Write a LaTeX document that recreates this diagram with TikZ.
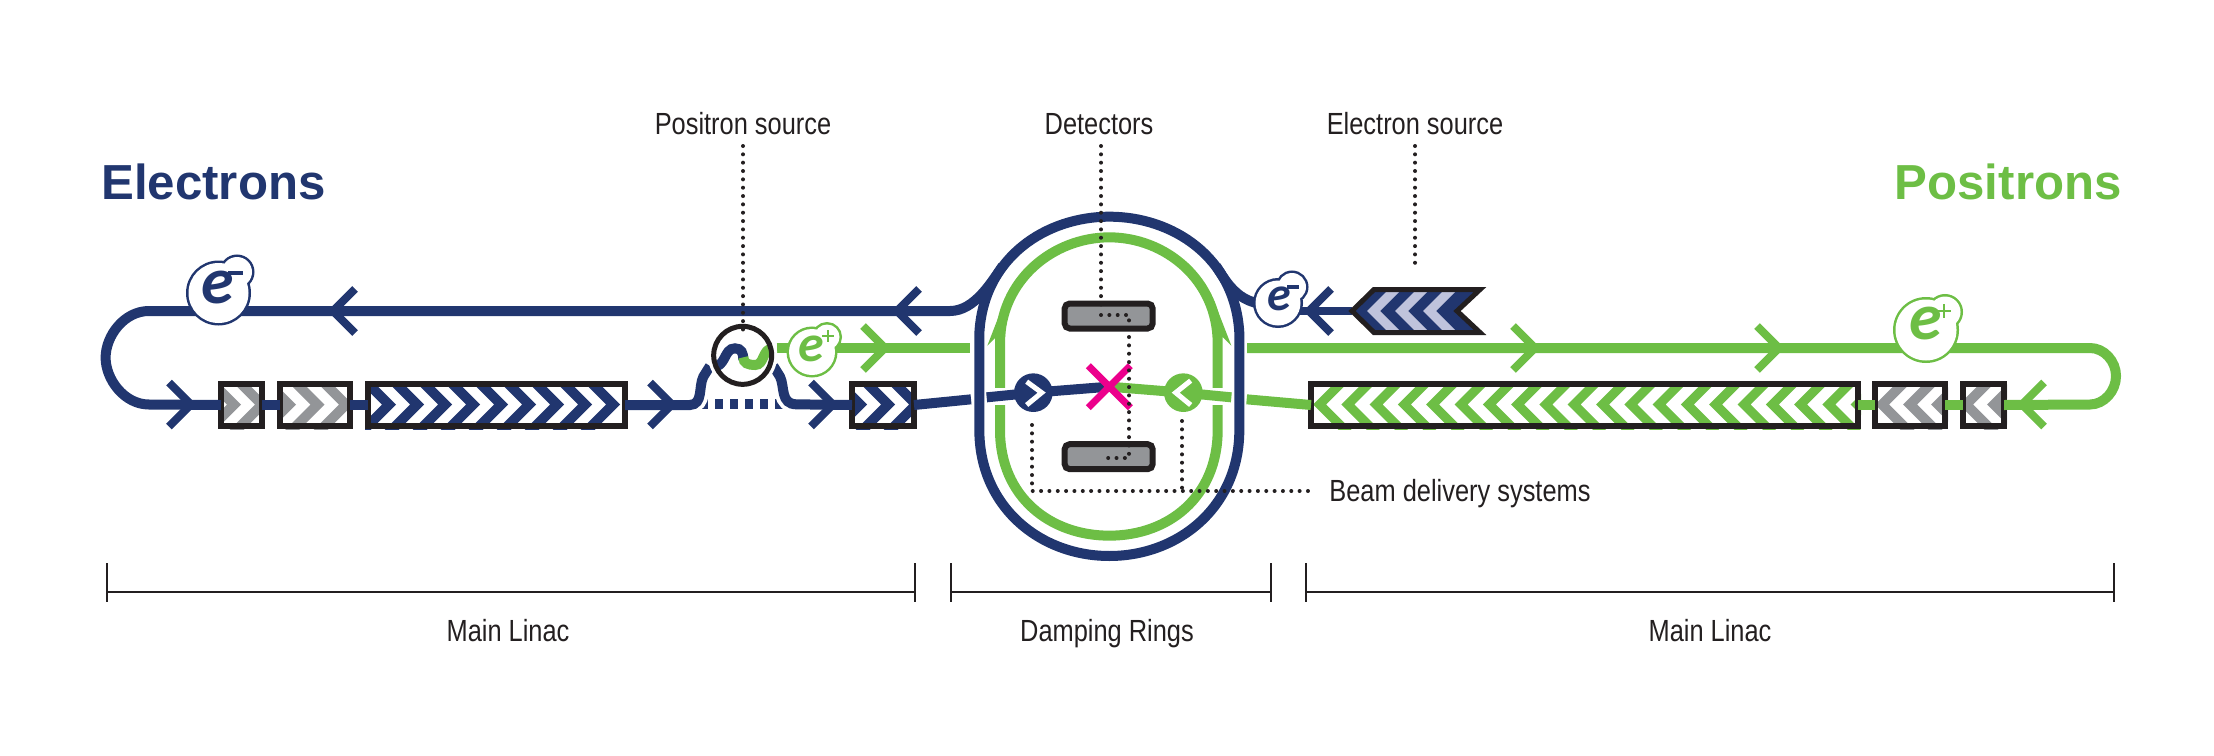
\documentclass[tikz,border=0pt]{standalone}
\usepackage{fontspec}
\setmainfont{Liberation Sans}
\newfontfamily\efont{Carlito}
\newfontfamily\lblfont[FakeStretch=0.83]{Liberation Sans}
\definecolor{navy}{HTML}{21366F}
\definecolor{lime}{HTML}{6DBE45}
\definecolor{blk}{HTML}{231F20}
\definecolor{gry}{HTML}{939598}
\definecolor{lav}{HTML}{BFC3DC}
\definecolor{mag}{HTML}{EC008C}
\tikzset{
 navyln/.style={draw=navy,line width=5pt},
 limeln/.style={draw=lime,line width=5pt},
 halo/.style={draw=white,line width=9pt},
 arm/.style={line width=4pt,miter limit=10},
 boxst/.style={draw=blk,line width=3pt,rectangle,inner sep=0pt,outer sep=0pt,minimum height=21pt},
 detbox/.style={draw=blk,fill=gry,line width=3pt,rectangle,rounded corners=2.5pt,inner sep=0pt,outer sep=0pt,minimum width=44pt,minimum height=12.5pt},
 dots/.style={draw=blk,line width=2pt,line cap=round,dash pattern=on 0pt off 4.17pt},
 lbl/.style={inner sep=0pt,anchor=base,font=\lblfont\fontsize{15.3}{17}\selectfont,text=blk},
 head/.style={inner sep=0pt,font=\fontsize{24.6}{28}\selectfont\bfseries},
 brk/.style={draw=blk,line width=1.2pt},
}
% chevrons pointing right / left: centre y, thickness, colour, tips
\newcommand{\chevR}[4]{\foreach \tp in {#4}{\fill[#3] (\tp,#1) -- ++(-30,-30) -- ++(-#2,0) -- ++(30,30) -- ++(-30,30) -- ++(#2,0) -- cycle;}}
\newcommand{\chevL}[4]{\foreach \tp in {#4}{\fill[#3] (\tp,#1) -- ++(30,-30) -- ++(#2,0) -- ++(-30,30) -- ++(30,30) -- ++(-#2,0) -- cycle;}}
% name, x1, x2, \chevR or \chevL, thickness, colour, tips
\newcommand{\linacbox}[7]{%
 \begin{scope}\clip (#2,381) rectangle (#3,429);
 #4{404.5}{#5}{#6}{#7}\end{scope}%
 \pgfmathsetmacro{\bw}{(#3-#2-6)*0.5}\pgfmathsetmacro{\bx}{(#3+#2)/2}%
 \node[boxst,minimum width=\bw pt] (#1) at (\bx,405) {};}
% arrows: tip x, y, colour
\newcommand{\arrR}[3]{\draw[#3,arm] (#1-22,#2-22) -- (#1,#2) -- (#1-22,#2+22);}
\newcommand{\arrL}[3]{\draw[#3,arm] (#1+22,#2-22) -- (#1,#2) -- (#1+22,#2+22);}
% cx, cy, r, bx, by, br, colour
\newcommand{\eblob}[7]{%
 \draw[#7,line width=2.5pt] (#1,#2) circle[radius=#3] (#4,#5) circle[radius=#6];
 \fill[white] (#1,#2) circle[radius=#3] (#4,#5) circle[radius=#6];}
\begin{document}
\begin{tikzpicture}[x=0.5pt,y=-0.5pt]
\useasboundingbox (0,0) rectangle (2214,755);
% linac boxes
\linacbox{bA}{218}{265}{\chevR}{14}{gry}{241,269}
\linacbox{bB}{277}{353}{\chevR}{14}{gry}{296,324.5,353}
\linacbox{bC}{365}{628}{\chevR}{14}{navy}{396,424,452,480,508,536,564,592,620}
\linacbox{bD}{849}{917}{\chevR}{14}{navy}{867,895,923}
\linacbox{bE}{1308}{1861}{\chevL}{13}{lime}{1313,1341.3,1369.6,1397.9,1426.2,1454.5,1482.8,1511.1,1539.4,1567.7,1596,1624.3,1652.6,1680.9,1709.2,1737.5,1765.8,1794.1,1822.4,1850.7}
\linacbox{bF}{1872}{1948}{\chevL}{14}{gry}{1875,1903,1931}
\linacbox{bG}{1960}{2007}{\chevL}{14}{gry}{1959,1987}
% green oval, central scope in 1/3-pixel units
\begin{scope}[shift={(950,190)},scale=0.33333]
 \draw[limeln] (150,460) .. controls (150,270) and (310,142) .. (478,142)
   .. controls (646,142) and (803,270) .. (803,460) -- (803,720)
   .. controls (803,920) and (656,1037) .. (478,1037)
   .. controls (300,1037) and (150,920) .. (150,720) -- cycle;
 \fill[lime] (112,467) -- (137,442) -- (165,442) -- (165,330) -- cycle;
 \fill[lime] (844,467) -- (819,442) -- (791,442) -- (791,330) -- cycle;
 % white gaps round the beams
 \fill[white] (112,595) rectangle (190,645);
 \fill[white] (760,595) rectangle (844,645);
 \coordinate (ip) at (478,590);
 \coordinate (nb) at (250,608);
 \coordinate (gb) at (700,608);
 \coordinate (nl) at (110,622);
 \coordinate (gl) at (844,622);
 \coordinate (nout) at (63,628);
 \coordinate (gout) at (890,628);
 \draw[navyln] (nl) -- (nb) -- (ip);
 \draw[limeln] (ip) -- (gb) -- (gl);
 \fill[navy] (nb) circle[radius=58];
 \fill[lime] (gb) circle[radius=58];
 \draw[white,line width=2.5pt] (230,575) -- (275,608) -- (230,645);
 \draw[white,line width=2.5pt] (722,572) -- (677,608) -- (722,645);
 % navy oval
 \draw[navyln] (88,430) .. controls (100,200) and (290,80) .. (478,80)
   .. controls (666,80) and (856,200) .. (868,430) -- (868,720)
   .. controls (868,950) and (686,1098) .. (478,1098)
   .. controls (270,1098) and (88,950) .. (88,720) -- cycle;
 \node[detbox] (detT) at (476,378) {};
 \node[detbox] (detB) at (476,800) {};
\end{scope}
% navy electron line with left loop
\coordinate (flL) at (1002.7,266);
\draw[navyln] (flL) .. controls (992,281) and (975,311) .. (950,311) -- (149,311)
  .. controls (124,311) and (105.6,336) .. (105.6,357.7)
  .. controls (105.6,379) and (124,404.5) .. (149,404.5) -- (bA.west);
\draw[navyln] (bA.east) -- (bB.west);
\draw[navyln] (bB.east) -- (bC.west);
\draw[navyln] (bD.east) -- (nout);
\draw[limeln] (gout) -- (bE.west);
\draw[limeln] (bE.east) -- (bF.west);
\draw[limeln] (bF.east) -- (bG.west);
% green positron line and right loop
\draw[limeln] (1247,348) -- (2090,348)
  .. controls (2104,348) and (2116,361) .. (2116,376)
  .. controls (2116,391) and (2104,404.5) .. (2090,404.5) -- (bG.east);
% positron source
\begin{scope}[shift={(640,280)},scale=0.33333]
 \foreach \dx in {225,270,315,360} {\fill[navy] (\dx,358) rectangle ++(25,30);}
 \fill[navy] (181,358) rectangle (205,388);
 \fill[navy] (405,358) rectangle (428,388);
 \coordinate (riseL) at (210,258);
 \coordinate (riseR) at (400,258);
 \draw[halo] (150,372) .. controls (190,372) and (175,320) .. (190,290) -- (riseL);
 \draw[halo] (470,372) .. controls (420,372) and (435,320) .. (420,290) -- (riseR);
 \coordinate (flatL) at (150,372);
 \draw[navyln] (bC.east) -- (flatL |- bC.east) .. controls (190,373) and (175,320) .. (190,290) -- (riseL);
 \draw[navyln] (riseR) -- (420,290) .. controls (435,320) and (420,373) .. (470,373) -- (bD.west);
 \draw[limeln] (410,205) -- (990,205);
 \fill[white] (308,226) circle[radius=104];
 \begin{scope}
  \clip (308,226) circle[radius=85];
  \draw[navyln] (215,262) .. controls (260,262) and (250,205) .. (285,205) .. controls (305,205) and (310,220) .. (310,240);
  \draw[limeln] (310,232) .. controls (310,250) and (325,255) .. (345,255) .. controls (375,255) and (365,205) .. (400,205);
 \end{scope}
 \draw[blk,line width=2.5pt] (308,226) circle[radius=87];
\end{scope}
% right navy flare and electron source
\coordinate (flR) at (1216,266);
\coordinate (blobR) at (1278,303);
\draw[navyln] (flR) .. controls (1226,281) and (1240,310) .. (blobR);
\coordinate (esrc) at (1352,311);
\draw[navy,line width=4pt] (esrc) -- (blobR |- esrc);
\begin{scope}
 \clip (1352,311) -- (1374,289.5) -- (1480,289.5) -- (1457,311) -- (1480,332.5) -- (1374,332.5) -- cycle;
 \fill[navy] (1340,280) rectangle (1490,340);
 \chevL{311}{13}{lav}{1367,1395,1423}
\end{scope}
\draw[blk,line width=2.5pt,miter limit=10] (1352,311) -- (1374,289.5) -- (1480,289.5) -- (1457,311) -- (1480,332.5) -- (1374,332.5) -- cycle;
% arrowheads
\arrR{191}{404.5}{navy}
\arrL{333}{311}{navy}
\arrR{672}{404.5}{navy}
\arrR{833}{404.5}{navy}
\arrL{897}{311}{navy}
\arrL{1309}{311}{navy}
\arrR{885}{348}{lime}
\arrR{1535}{348}{lime}
\arrR{1779}{348}{lime}
\arrL{2022}{404.5}{lime}
% e blobs
\eblob{218.5}{293}{30}{237}{272}{15}{navy}
\eblob{1278}{303}{22.5}{1292}{287}{14}{navy}
\eblob{812}{352}{23}{827}{337}{12.5}{lime}
\eblob{1926}{330}{30.5}{1945}{312}{15.5}{lime}
\node[inner sep=0pt,text=navy,font=\efont\fontsize{33}{33}\selectfont\bfseries\itshape] (eA) at (218,288) {e};
\node[inner sep=0pt,text=navy,font=\efont\fontsize{24}{24}\selectfont\bfseries\itshape] (eB) at (1279,299) {e};
\node[inner sep=0pt,text=lime,font=\efont\fontsize{26}{26}\selectfont\bfseries\itshape] (eC) at (811,349) {e};
\node[inner sep=0pt,text=lime,font=\efont\fontsize{33}{33}\selectfont\bfseries\itshape] (eD) at (1926,324) {e};
\draw[navy,line width=2pt] (228,273) -- (243,273);
\draw[navy,line width=2pt] (1287,287) -- (1299,287);
\draw[lime,line width=1pt] (822,336) -- (834,336) (828,330) -- (828,342);
\draw[lime,line width=1pt] (1937,311) -- (1951,311) (1944,304) -- (1944,318);
% magenta cross
\coordinate (xc) at (1109.3,386.7);
\draw[mag,line width=3.5pt] (xc) ++(-21,-21) -- ++(42,42) (xc) ++(-21,21) -- ++(42,-42);
% labels
\node[lbl] (lPos) at (743,134) {Positron source};
\node[lbl] (lDet) at (1099,134) {Detectors};
\node[lbl] (lEl) at (1415,134) {Electron source};
\node[lbl,anchor=base west] (lBeam) at (1329,501) {Beam delivery systems};
\node[head,text=navy,anchor=base west] (hE) at (101,199) {Electrons};
\node[head,text=lime,anchor=base east] (hP) at (2122,199) {Positrons};
\node[lbl] (lM1) at (508,641) {Main Linac};
\node[lbl] (lDR) at (1107,641) {Damping Rings};
\node[lbl] (lM2) at (1710,641) {Main Linac};
% dotted leaders
\draw[dots] (743,146) -- (743,337);
\draw[dots] (1415,146) -- (1415,270);
\draw[dots] (1101,146) -- (1101,307);
\draw[dots] (1101,315) -- (1129,315) -- (1129,458) -- (1103,458);
\draw[dots] (1032,425) -- (1032,491) -- (1316,491);
\draw[dots] (1182,421) -- (1182,491);
% brackets
\coordinate (a1) at (107,592); \coordinate (a2) at (915,592);
\coordinate (b1) at (951,592); \coordinate (b2) at (1271,592);
\coordinate (c1) at (1306,592); \coordinate (c2) at (2114,592);
\draw[brk] (a1) -- (a2) (b1) -- (b2) (c1) -- (c2);
\foreach \n in {a1,a2,b1,b2,c1,c2} {\draw[brk] (\n) ++(0,-29) -- ++(0,39);}
\end{tikzpicture}
\end{document}
